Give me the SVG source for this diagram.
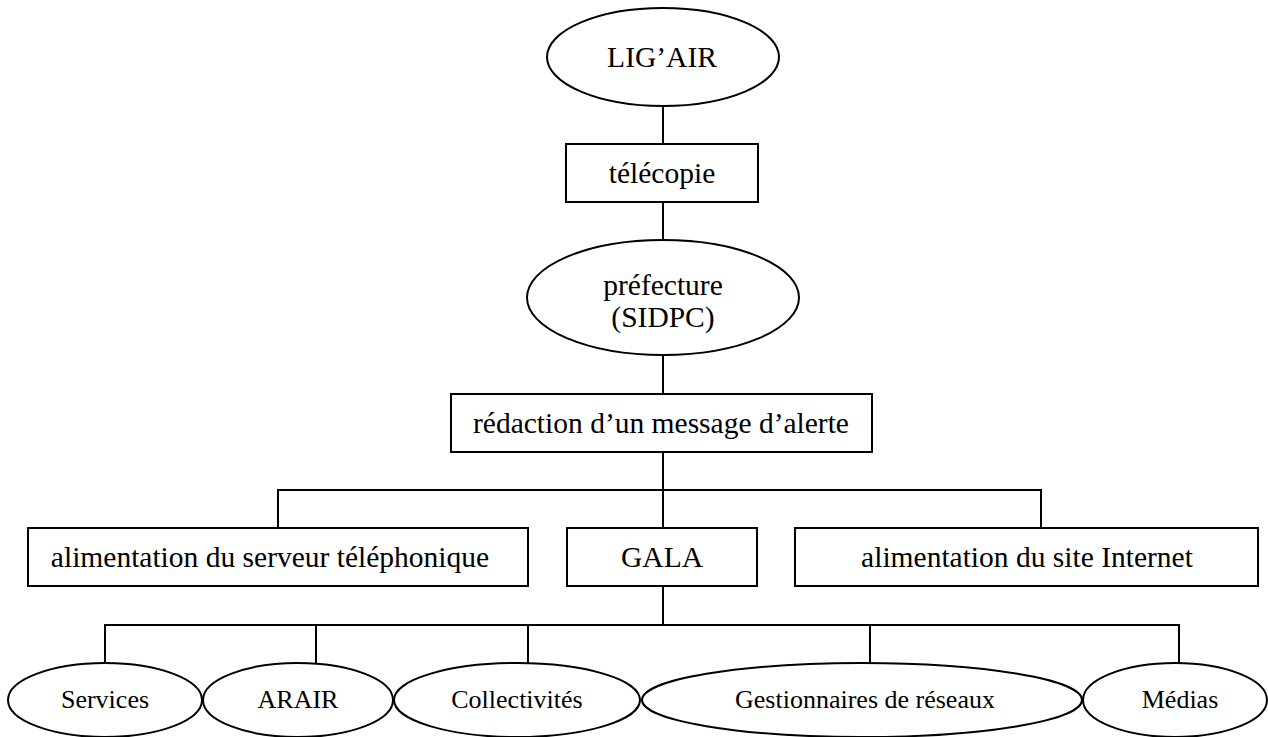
<svg xmlns="http://www.w3.org/2000/svg" width="1268" height="737" viewBox="0 0 1268 737">
<style>
.n{fill:#fff;stroke:#000;stroke-width:2}
.c{fill:none;stroke:#000;stroke-width:2}
.t{font-family:"Liberation Serif","Times New Roman",serif;font-size:29.5px;fill:#000;text-anchor:middle}
.s{font-family:"Liberation Serif","Times New Roman",serif;font-size:26px;fill:#000;text-anchor:middle}
</style>
<rect width="1268" height="737" fill="#fff"/>
<g id="connectors">
<path class="c" d="M663 106V144M663 202V240M663 355V394M663 452V528M278 528V490H1041V528M663 586V625M105 663V625H1179V663M316 625V663M528 625V663M870 625V663"/>
</g>
<g id="ligair"><ellipse class="n" cx="663" cy="57" rx="116" ry="49"/><text class="t" x="662" y="67">LIG’AIR</text></g>
<g id="telecopie"><rect class="n" x="566" y="144" width="192" height="58"/><text class="t" x="662" y="183">télécopie</text></g>
<g id="prefecture"><ellipse class="n" cx="663" cy="297.5" rx="136" ry="57.5"/><text class="t" x="663" y="295">préfecture</text><text class="t" x="663" y="327">(SIDPC)</text></g>
<g id="redaction"><rect class="n" x="451" y="394" width="421" height="58"/><text class="t" x="661" y="433">rédaction d’un message d’alerte</text></g>
<g id="serveur"><rect class="n" x="28" y="528" width="500" height="58"/><text class="t" x="270" y="567">alimentation du serveur téléphonique</text></g>
<g id="gala"><rect class="n" x="567" y="528" width="190" height="58"/><text class="t" x="662" y="567">GALA</text></g>
<g id="internet"><rect class="n" x="795" y="528" width="463" height="58"/><text class="t" x="1027" y="567">alimentation du site Internet</text></g>
<g id="services"><ellipse class="n" cx="105" cy="700" rx="97" ry="37"/><text class="s" x="105" y="708">Services</text></g>
<g id="arair"><ellipse class="n" cx="298" cy="700" rx="95" ry="37"/><text class="s" x="298" y="708">ARAIR</text></g>
<g id="collectivites"><ellipse class="n" cx="517" cy="700" rx="123" ry="37"/><text class="s" x="517" y="708">Collectivités</text></g>
<g id="gestionnaires"><ellipse class="n" cx="862" cy="700" rx="220" ry="37"/><text class="s" x="865" y="708">Gestionnaires de réseaux</text></g>
<g id="medias"><ellipse class="n" cx="1175" cy="700" rx="92" ry="37"/><text class="s" x="1180" y="708">Médias</text></g>
</svg>
